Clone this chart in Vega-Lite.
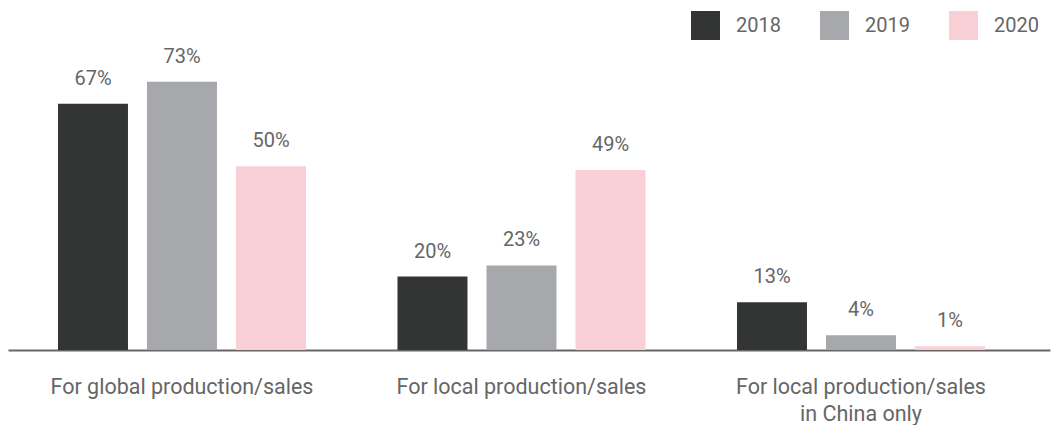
{
  "$schema": "https://vega.github.io/schema/vega-lite/v6.json",
  "autosize": {"type": "none"},
  "padding": {"left": 8, "top": 56, "right": 4, "bottom": 75},
  "width": 1042,
  "height": 294,
  "background": "white",
  "config": {
    "view": {"stroke": null},
    "font": "Roboto",
    "text": {"font": "Roboto"}
  },
  "data": {
    "values": [
      {"category": "For global production/sales", "year": "2018", "value": 0.67},
      {"category": "For global production/sales", "year": "2019", "value": 0.73},
      {"category": "For global production/sales", "year": "2020", "value": 0.50},
      {"category": "For local production/sales", "year": "2018", "value": 0.20},
      {"category": "For local production/sales", "year": "2019", "value": 0.23},
      {"category": "For local production/sales", "year": "2020", "value": 0.49},
      {"category": "For local production/sales\nin China only", "year": "2018", "value": 0.13},
      {"category": "For local production/sales\nin China only", "year": "2019", "value": 0.04},
      {"category": "For local production/sales\nin China only", "year": "2020", "value": 0.01}
    ]
  },
  "encoding": {
    "x": {
      "field": "category",
      "type": "nominal",
      "sort": null,
      "scale": {"paddingInner": 0, "paddingOuter": 0.0346, "align": 0.18},
      "axis": {
        "title": null,
        "labelAngle": 0,
        "ticks": false,
        "domainColor": "#666666",
        "domainWidth": 2,
        "labelFont": "Roboto",
        "labelFontSize": 21.5,
        "labelColor": "#666666",
        "labelBaseline": "alphabetic",
        "labelPadding": 43,
        "labelLineHeight": 27,
        "labelLimit": 0,
        "labelExpr": "split(datum.label, '\\n')"
      }
    },
    "xOffset": {
      "field": "year",
      "type": "nominal",
      "scale": {"paddingInner": 0.2135, "paddingOuter": 0.514}
    },
    "y": {
      "field": "value",
      "type": "quantitative",
      "scale": {"domain": [0, 0.8], "nice": false},
      "axis": null
    }
  },
  "layer": [
    {
      "mark": {"type": "bar"},
      "encoding": {
        "color": {
          "field": "year",
          "type": "nominal",
          "scale": {"domain": ["2018", "2019", "2020"], "range": ["#333534", "#a7a8ab", "#f8d0d6"]},
          "legend": {
            "title": null,
            "orient": "none",
            "direction": "horizontal",
            "legendX": 683,
            "legendY": -45,
            "symbolType": "square",
            "symbolSize": 841,
            "symbolStrokeWidth": 0,
            "symbolOpacity": 1,
            "labelFont": "Roboto",
            "labelFontSize": 20,
            "labelColor": "#666666",
            "labelOffset": 16,
            "columnPadding": 39
          }
        }
      }
    },
    {
      "mark": {"type": "text", "baseline": "alphabetic", "dy": -19, "font": "Roboto", "fontSize": 20, "color": "#666666"},
      "encoding": {
        "text": {"field": "value", "type": "quantitative", "format": ".0%"}
      }
    }
  ]
}
